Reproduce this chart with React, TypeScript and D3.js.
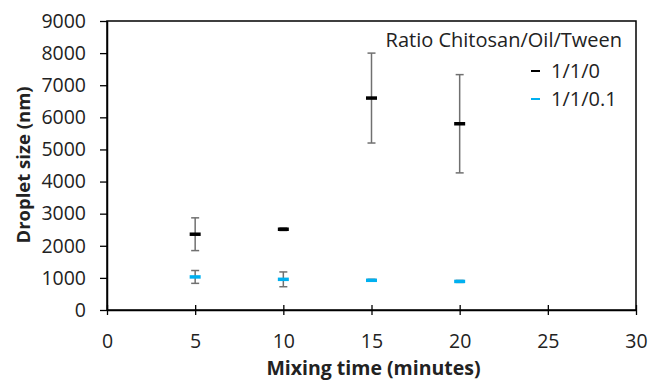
import React, { useEffect, useRef } from "react";
import * as d3 from "d3";

const times = [5, 10, 15, 20];
const noTweenMeans = [2360, 2515, 6600, 5800];
const noTweenErrors = [510, 40, 1400, 1530];
const tweenMeans = [1030, 955, 925, 890];
const tweenErrors = [200, 230, 30, 30];
const xTicks = [0, 5, 10, 15, 20, 25, 30];
const yTicks = [0, 1000, 2000, 3000, 4000, 5000, 6000, 7000, 8000, 9000];
const seriesNames = ["1/1/0", "1/1/0.1"];
const seriesColors = ["#000000", "#00b0f0"];

interface Point {
  t: number;
  mean: number;
  err: number;
}

const App: React.FC = () => {
  const svgRef = useRef<SVGSVGElement | null>(null);

  useEffect(() => {
    const width = 649;
    const height = 382;
    const margin = { top: 21, right: 13, bottom: 72, left: 107 };
    const font = "'Open Sans', sans-serif";

    const svg = d3.select(svgRef.current);
    svg.selectAll("*").remove();

    const x = d3.scaleLinear().domain([0, 30]).range([margin.left, width - margin.right]);
    const y = d3.scaleLinear().domain([0, 9000]).range([height - margin.bottom, margin.top]);

    // frame
    svg.append("rect")
      .attr("x", x(0))
      .attr("y", y(9000))
      .attr("width", x(30) - x(0))
      .attr("height", y(0) - y(9000))
      .attr("fill", "none")
      .attr("stroke", "#000")
      .attr("stroke-width", 1.5);

    const xAxis = svg.append("g")
      .attr("transform", `translate(0,${y(0)})`)
      .call(d3.axisBottom(x).tickValues(xTicks).tickSize(5).tickSizeOuter(0).tickPadding(19));
    xAxis.select(".domain").attr("stroke-width", 1.5);
    xAxis.selectAll(".tick line").attr("y1", -5).attr("stroke-width", 1.3);
    xAxis.selectAll("text")
      .style("font-family", font)
      .style("font-size", "19.5px")
      .style("fill", "#222");

    const yAxis = svg.append("g")
      .attr("transform", `translate(${x(0)},0)`)
      .call(d3.axisLeft(y).tickValues(yTicks).tickFormat(d3.format("d")).tickSize(7).tickSizeOuter(0).tickPadding(14));
    yAxis.select(".domain").attr("stroke-width", 1.5);
    yAxis.selectAll(".tick line").attr("stroke-width", 1.3);
    yAxis.selectAll("text")
      .style("font-family", font)
      .style("font-size", "19.5px")
      .style("fill", "#222");

    // axis titles
    svg.append("text")
      .attr("x", (x(0) + x(30)) / 2 + 2)
      .attr("y", 375)
      .attr("text-anchor", "middle")
      .style("font-family", font)
      .style("font-size", "19.5px")
      .style("font-weight", "bold")
      .style("fill", "#222")
      .text("Mixing time (minutes)");

    svg.append("text")
      .attr("transform", `translate(30,165) rotate(-90)`)
      .attr("text-anchor", "middle")
      .style("font-family", font)
      .style("font-size", "18.5px")
      .style("font-weight", "bold")
      .style("fill", "#222")
      .text("Droplet size (nm)");

    const series: Point[][] = [
      times.map((t, i) => ({ t, mean: noTweenMeans[i], err: noTweenErrors[i] })),
      times.map((t, i) => ({ t, mean: tweenMeans[i], err: tweenErrors[i] })),
    ];

    series.forEach((pts, si) => {
      const g = svg.append("g");
      pts.forEach(p => {
        const cx = x(p.t);
        const top = y(p.mean + p.err);
        const bot = y(p.mean - p.err);
        g.append("line")
          .attr("x1", cx).attr("x2", cx).attr("y1", top).attr("y2", bot)
          .attr("stroke", "#707070").attr("stroke-width", 1.5);
        [top, bot].forEach(cy => {
          g.append("line")
            .attr("x1", cx - 4).attr("x2", cx + 4).attr("y1", cy).attr("y2", cy)
            .attr("stroke", "#707070").attr("stroke-width", 1.5);
        });
        g.append("line")
          .attr("x1", cx - 5.5).attr("x2", cx + 5.5)
          .attr("y1", y(p.mean)).attr("y2", y(p.mean))
          .attr("stroke", seriesColors[si]).attr("stroke-width", 3.5);
      });
    });

    // legend
    const legend = svg.append("g");
    legend.append("text")
      .attr("x", 622)
      .attr("y", 47)
      .attr("text-anchor", "end")
      .style("font-family", font)
      .style("font-size", "20px")
      .style("fill", "#222")
      .text("Ratio Chitosan/Oil/Tween");
    seriesNames.forEach((name, i) => {
      const cy = 71 + i * 28;
      legend.append("line")
        .attr("x1", 531).attr("x2", 540).attr("y1", cy).attr("y2", cy)
        .attr("stroke", seriesColors[i]).attr("stroke-width", 2);
      legend.append("text")
        .attr("x", 551)
        .attr("y", cy + 7)
        .style("font-family", font)
        .style("font-size", "20px")
        .style("fill", "#222")
        .text(name);
    });
  }, []);

  return (
    <div style={{ position: "fixed", left: 0, top: 0, background: "#fff" }}>
      <svg ref={svgRef} width={649} height={382} style={{ display: "block" }} />
    </div>
  );
};

export default App;
